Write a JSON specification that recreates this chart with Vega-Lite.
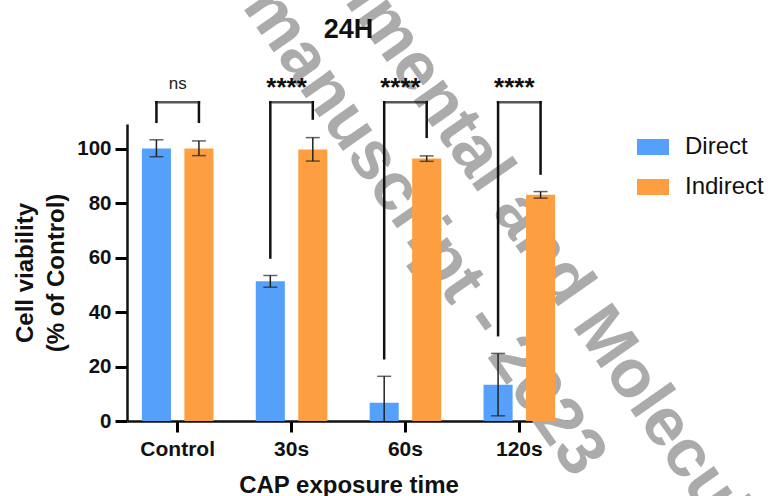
{
  "$schema": "https://vega.github.io/schema/vega-lite/v6.json",
  "width": 443,
  "height": 297,
  "autosize": {"type": "none"},
  "padding": {"left": 127, "top": 124, "right": 198, "bottom": 75},
  "background": "white",
  "config": {
    "font": "Liberation Sans",
    "view": {"stroke": null},
    "axis": {"ticks": true, "grid": false, "tickColor": "black", "tickWidth": 3, "tickOpacity": 1, "domainWidth": 2.5, "domainColor": "#111", "labelColor": "#111", "labelFontWeight": "bold", "titleFontSize": 24, "titleFontWeight": "bold", "titleColor": "#111"},
    "axisX": {"tickSize": 11, "labelFontSize": 21, "labelPadding": 6, "labelAngle": 0, "labelAlign": "center", "labelBaseline": "top", "titlePadding": 14},
    "axisY": {"tickSize": 12, "labelFontSize": 20.5, "labelPadding": 4, "labelAlign": "right", "labelBaseline": "middle", "titleLineHeight": 31, "titlePadding": 8}
  },
  "datasets": {
    "bars": [
      {"cap": "Control", "side": "Direct", "viability": 100.0, "lo": 97.0, "hi": 103.2},
      {"cap": "Control", "side": "Indirect", "viability": 100.0, "lo": 97.4, "hi": 102.8},
      {"cap": "30s", "side": "Direct", "viability": 51.3, "lo": 49.1, "hi": 53.4},
      {"cap": "30s", "side": "Indirect", "viability": 99.6, "lo": 95.4, "hi": 104.0},
      {"cap": "60s", "side": "Direct", "viability": 6.7, "lo": -3.0, "hi": 16.4},
      {"cap": "60s", "side": "Indirect", "viability": 96.3, "lo": 95.3, "hi": 97.3},
      {"cap": "120s", "side": "Direct", "viability": 13.3, "lo": 1.9, "hi": 24.8},
      {"cap": "120s", "side": "Indirect", "viability": 83.0, "lo": 81.8, "hi": 84.2}
    ],
    "legs": [
      {"cap": "Control", "side": "Direct", "top": 117, "end": 109.8},
      {"cap": "Control", "side": "Indirect", "top": 117, "end": 109.8},
      {"cap": "30s", "side": "Direct", "top": 117, "end": 60},
      {"cap": "30s", "side": "Indirect", "top": 117, "end": 111},
      {"cap": "60s", "side": "Direct", "top": 117, "end": 23},
      {"cap": "60s", "side": "Indirect", "top": 117, "end": 104.3},
      {"cap": "120s", "side": "Direct", "top": 117, "end": 31.5},
      {"cap": "120s", "side": "Indirect", "top": 117, "end": 90.8}
    ],
    "sig": [
      {"cap": "Control", "top": 117, "label": "ns"},
      {"cap": "30s", "top": 117, "label": "****"},
      {"cap": "60s", "top": 117, "label": "****"},
      {"cap": "120s", "top": 117, "label": "****"}
    ]
  },
  "layer": [
    {
      "data": {"values": [{}]},
      "mark": {"type": "text", "text": "manuscript - 2023", "angle": 55, "align": "center", "baseline": "middle", "fontSize": 68, "fontWeight": "bold", "color": "#ababab", "dx": -5,
        "x": {"expr": "scale('x', '60s') + scale('xOffset', 'Indirect') + bandwidth('xOffset') / 2"},
        "y": {"expr": "scale('y', 68)"}},
      "encoding": {}
    },
    {
      "data": {"values": [{}]},
      "mark": {"type": "text", "text": "Experimental and Molecular Medicine", "angle": 55, "align": "center", "baseline": "middle", "fontSize": 68, "fontWeight": "bold", "color": "#ababab", "dx": 103,
        "x": {"expr": "scale('x', '120s') + scale('xOffset', 'Indirect') + bandwidth('xOffset') / 2"},
        "y": {"expr": "scale('y', 64)"}},
      "encoding": {}
    },
    {
      "data": {"name": "bars"},
      "mark": {"type": "bar"},
      "encoding": {
        "x": {
          "field": "cap", "type": "nominal", "sort": ["Control", "30s", "60s", "120s"],
          "scale": {"paddingInner": 0.2, "paddingOuter": 0.045},
          "title": "CAP exposure time",
          "axis": {"ticks": true, "tickColor": "black", "tickWidth": 3, "tickOpacity": 1, "tickSize": 11}
        },
        "xOffset": {"field": "side", "type": "nominal", "sort": ["Direct", "Indirect"], "scale": {"paddingInner": 0.316, "paddingOuter": 0.23}},
        "y": {
          "field": "viability", "type": "quantitative",
          "scale": {"domain": [0, 109], "nice": false},
          "title": ["Cell viability", "(% of Control)"],
          "axis": {"values": [0, 20, 40, 60, 80, 100], "tickColor": "black", "tickWidth": 3}
        },
        "color": {
          "field": "side", "type": "nominal",
          "scale": {"domain": ["Direct", "Indirect"], "range": ["#55a0fb", "#fd9f41"]},
          "legend": {"title": null, "orient": "none", "legendX": 510, "legendY": 7, "symbolType": "M-1,-0.5H1V0.5H-1Z", "symbolSize": 1024, "symbolStrokeWidth": 0, "labelFontSize": 24, "labelColor": "#111", "labelOffset": 16, "rowPadding": 12}
        }
      }
    },
    {
      "data": {"name": "bars"},
      "mark": {"type": "rule", "color": "#222", "strokeWidth": 1.5, "clip": true},
      "encoding": {
        "x": {"field": "cap", "type": "nominal", "sort": ["Control", "30s", "60s", "120s"]},
        "xOffset": {"field": "side", "type": "nominal", "sort": ["Direct", "Indirect"]},
        "y": {"field": "lo", "type": "quantitative"},
        "y2": {"field": "hi"}
      }
    },
    {
      "data": {"name": "bars"},
      "mark": {"type": "tick", "orient": "horizontal", "size": 14, "thickness": 1.5, "color": "#222", "clip": true},
      "encoding": {
        "x": {"field": "cap", "type": "nominal", "sort": ["Control", "30s", "60s", "120s"]},
        "xOffset": {"field": "side", "type": "nominal", "sort": ["Direct", "Indirect"]},
        "y": {"field": "lo", "type": "quantitative"}
      }
    },
    {
      "data": {"name": "bars"},
      "mark": {"type": "tick", "orient": "horizontal", "size": 14, "thickness": 1.5, "color": "#222", "clip": true},
      "encoding": {
        "x": {"field": "cap", "type": "nominal", "sort": ["Control", "30s", "60s", "120s"]},
        "xOffset": {"field": "side", "type": "nominal", "sort": ["Direct", "Indirect"]},
        "y": {"field": "hi", "type": "quantitative"}
      }
    },
    {
      "data": {"name": "legs"},
      "mark": {"type": "rule", "color": "#111", "strokeWidth": 2.5, "strokeCap": "square"},
      "encoding": {
        "x": {"field": "cap", "type": "nominal", "sort": ["Control", "30s", "60s", "120s"]},
        "xOffset": {"field": "side", "type": "nominal", "sort": ["Direct", "Indirect"]},
        "y": {"field": "top", "type": "quantitative"},
        "y2": {"field": "end"}
      }
    },
    {
      "data": {"name": "sig"},
      "mark": {"type": "tick", "orient": "horizontal", "size": 45, "thickness": 2.5, "color": "#111"},
      "encoding": {
        "x": {"field": "cap", "type": "nominal", "sort": ["Control", "30s", "60s", "120s"]},
        "y": {"field": "top", "type": "quantitative"}
      }
    },
    {
      "data": {"name": "sig"},
      "transform": [{"filter": "datum.label === 'ns'"}],
      "mark": {"type": "text", "fontSize": 17, "color": "#222", "baseline": "alphabetic", "y": {"expr": "scale('y', 121.9)"}},
      "encoding": {
        "x": {"field": "cap", "type": "nominal", "sort": ["Control", "30s", "60s", "120s"]},
        "text": {"field": "label"}
      }
    },
    {
      "data": {"name": "sig"},
      "transform": [{"filter": "datum.label !== 'ns'"}],
      "mark": {"type": "text", "fontSize": 26, "fontWeight": "bold", "color": "#111", "baseline": "alphabetic", "dx": -5, "y": {"expr": "scale('y', 119.3)"}},
      "encoding": {
        "x": {"field": "cap", "type": "nominal", "sort": ["Control", "30s", "60s", "120s"]},
        "text": {"field": "label"}
      }
    },
    {
      "data": {"values": [{}]},
      "mark": {"type": "text", "text": "24H", "fontSize": 27, "fontWeight": "bold", "color": "#111", "baseline": "alphabetic", "align": "center", "x": {"expr": "width / 2"}, "y": {"expr": "scale('y', 140.6)"}},
      "encoding": {}
    }
  ]
}
